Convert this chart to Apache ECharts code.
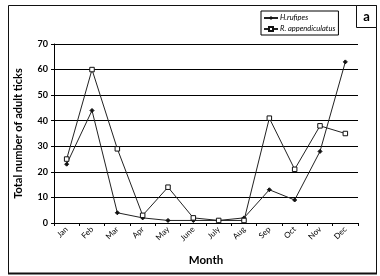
<!DOCTYPE html>
<html><head><meta charset="utf-8">
<script src="https://cdn.jsdelivr.net/npm/echarts@6/dist/echarts.min.js"></script>
<style>html,body{margin:0;padding:0;background:#fff}#c{width:380px;height:276px}</style>
</head><body><div id="c"></div>
<script>
const months = ['Jan','Feb','Mar','Apr','May','June','July','Aug','Sep','Oct','Nov','Dec'];
const hRufipes = [23,44,4,2,1,1,1,2,13,9,28,63];
const rAppendiculatus = [25,60,29,3,14,2,1,1,41,21,38,35];
const yTicks = [0,10,20,30,40,50,60,70];
const seriesNames = ['H.rufipes','R. appendiculatus'];
const FONT = 'Lato';
const chart = echarts.init(document.getElementById('c'), null, {renderer:'canvas'});
chart.setOption({
  animation:false,
  backgroundColor:'#fff',
  textStyle:{fontFamily:FONT,color:'#000'},
  grid:{left:54,right:22,top:44,bottom:53},
  legend:{
    orient:'vertical', left:261, top:11,
    backgroundColor:'#fff', borderColor:'#000', borderWidth:1,
    padding:[3,3,2,2], itemGap:3, itemWidth:14, itemHeight:5,
    textStyle:{fontFamily:FONT,fontSize:7.5,fontStyle:'italic',color:'#000',padding:[0,0,0,-3]},
    data:seriesNames
  },
  xAxis:{
    type:'category', data:months, boundaryGap:true,
    name:'Month', nameLocation:'middle', nameGap:31,
    nameTextStyle:{fontFamily:FONT,fontSize:11.5,fontWeight:'bold',color:'#000'},
    axisLine:{lineStyle:{color:'#000',width:1}},
    axisTick:{show:true,length:3,lineStyle:{color:'#000'}},
    axisLabel:{rotate:45,fontSize:8,color:'#000',margin:5,fontFamily:FONT,interval:0}
  },
  yAxis:{
    type:'value', min:yTicks[0], max:yTicks[yTicks.length-1], interval:10,
    name:'Total number of adult ticks', nameLocation:'middle', nameGap:30,
    nameTextStyle:{fontFamily:FONT,fontSize:11,fontWeight:'bold',color:'#000'},
    axisLine:{show:true,lineStyle:{color:'#000',width:1}},
    axisTick:{show:true,length:3,lineStyle:{color:'#000'}},
    axisLabel:{fontSize:9,fontWeight:'bold',color:'#000',margin:6,fontFamily:FONT},
    splitLine:{show:true,lineStyle:{color:'#000',width:1}}
  },
  series:[
    {name:seriesNames[0],type:'line',data:hRufipes,symbol:'diamond',symbolSize:4,
     itemStyle:{color:'#111',borderColor:'#111'},lineStyle:{color:'#222',width:1},z:3},
    {name:seriesNames[1],type:'line',data:rAppendiculatus,symbol:'rect',symbolSize:4.5,
     itemStyle:{color:'#fff',borderColor:'#111',borderWidth:1},lineStyle:{color:'#222',width:1},z:4}
  ],
  graphic:[
    {type:'rect',shape:{x:8.5,y:5.5,width:368,height:268},style:{fill:'none',stroke:'#111',lineWidth:1},z:-1},
    {type:'line',shape:{x1:8,y1:273.5,x2:377,y2:273.5},style:{stroke:'#111',lineWidth:2}},
    {type:'rect',shape:{x:356.5,y:5.5,width:20,height:22},style:{fill:'#fff',stroke:'#111',lineWidth:1}},
    {type:'text',x:366.5,y:16.5,style:{text:'a',font:'bold 13px '+FONT,fill:'#000',align:'center',verticalAlign:'middle'}}
  ]
});
</script></body></html>
